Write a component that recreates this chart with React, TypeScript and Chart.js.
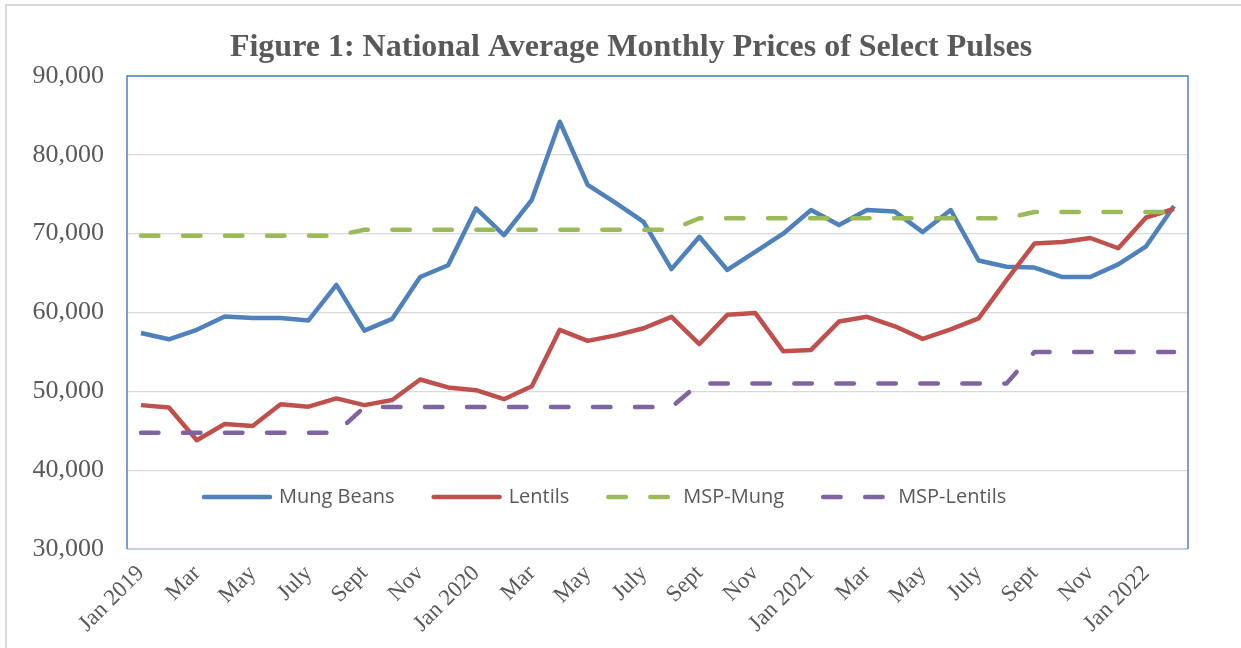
import React, { useEffect, useRef } from "react";
import { Chart, registerables } from "chart.js";

Chart.register(...registerables);

const categories = [
  "Jan 2019", "Feb", "Mar", "Apr", "May", "June", "July", "Aug", "Sept", "Oct", "Nov", "Dec",
  "Jan 2020", "Feb", "Mar", "Apr", "May", "June", "July", "Aug", "Sept", "Oct", "Nov", "Dec",
  "Jan 2021", "Feb", "Mar", "Apr", "May", "June", "July", "Aug", "Sept", "Oct", "Nov", "Dec",
  "Jan 2022", "Feb",
];

const mungBeans = [
  57400, 56600, 57800, 59500, 59300, 59300, 59000, 63500, 57700, 59200, 64500, 66000,
  73200, 69800, 74300, 84200, 76200, 73900, 71500, 65500, 69600, 65400, 67700, 70000,
  73000, 71100, 73000, 72800, 70200, 73000, 66600, 65800, 65700, 64500, 64500, 66100,
  68400, 73500,
];

const lentils = [
  48250, 47950, 43800, 45850, 45600, 48350, 48050, 49100, 48250, 48900, 51500, 50500,
  50150, 49000, 50650, 57800, 56400, 57100, 58000, 59450, 56000, 59700, 59950, 55100,
  55250, 58850, 59450, 58250, 56650, 57850, 59250, 64100, 68750, 68950, 69450, 68150,
  72050, 73150,
];

const mspMung = [
  69750, 69750, 69750, 69750, 69750, 69750, 69750, 69750, 70500, 70500, 70500, 70500,
  70500, 70500, 70500, 70500, 70500, 70500, 70500, 70500, 71960, 71960, 71960, 71960,
  71960, 71960, 71960, 71960, 71960, 71960, 71960, 71960, 72750, 72750, 72750, 72750,
  72750, 72750,
];

const mspLentils = [
  44750, 44750, 44750, 44750, 44750, 44750, 44750, 44750, 48000, 48000, 48000, 48000,
  48000, 48000, 48000, 48000, 48000, 48000, 48000, 48000, 51000, 51000, 51000, 51000,
  51000, 51000, 51000, 51000, 51000, 51000, 51000, 51000, 55000, 55000, 55000, 55000,
  55000, 55000,
];

const seriesNames = ["Mung Beans", "Lentils", "MSP-Mung", "MSP-Lentils"];
const titleText = "Figure 1: National Average Monthly Prices of Select Pulses";
const yMin = 30000;
const yMax = 90000;
const yStep = 10000;

const TEXT = "#595959";
const DASH = [17.5, 24.5];

const framePlugin = {
  id: "frame",
  beforeDraw(chart: any) {
    const ctx = chart.ctx;
    ctx.save();
    ctx.strokeStyle = "#D9D9D9";
    ctx.lineWidth = 2;
    ctx.beginPath();
    ctx.moveTo(6, chart.height);
    ctx.lineTo(6, 5);
    ctx.lineTo(chart.width, 5);
    ctx.stroke();
    ctx.fillStyle = TEXT;
    ctx.font = "bold 32px 'Liberation Serif'";
    ctx.textAlign = "center";
    ctx.textBaseline = "middle";
    ctx.fillText(titleText, 631, 48);
    ctx.restore();
  },
  afterDraw(chart: any) {
    const { ctx, chartArea } = chart;
    const { left, right, top, bottom } = chartArea;
    ctx.save();
    ctx.lineWidth = 1.5;
    ctx.strokeStyle = "#BCC8DA";
    ctx.beginPath();
    ctx.moveTo(left, bottom);
    ctx.lineTo(right, bottom);
    ctx.stroke();
    ctx.strokeStyle = "#4F81BD";
    ctx.beginPath();
    ctx.moveTo(left, bottom);
    ctx.lineTo(left, top);
    ctx.lineTo(right, top);
    ctx.lineTo(right, bottom);
    ctx.stroke();
    ctx.restore();
  },
};

const legendPlugin = {
  id: "insideLegend",
  afterDraw(chart: any) {
    const { ctx, chartArea } = chart;
    const y = chartArea.top + 421;
    let x = chartArea.left + 77;
    const sampleLen = 66;
    ctx.save();
    ctx.font = "20px 'Open Sans'";
    ctx.textBaseline = "middle";
    ctx.textAlign = "left";
    chart.data.datasets.forEach((ds: any) => {
      ctx.strokeStyle = ds.borderColor;
      ctx.lineWidth = 4.5;
      ctx.lineCap = "round";
      ctx.setLineDash(ds.borderDash || []);
      ctx.beginPath();
      ctx.moveTo(x, y);
      ctx.lineTo(x + sampleLen, y);
      ctx.stroke();
      ctx.setLineDash([]);
      x += sampleLen + 9;
      ctx.fillStyle = TEXT;
      ctx.fillText(ds.label, x, y);
      x += ctx.measureText(ds.label).width + 39;
    });
    ctx.restore();
  },
};

export default function App() {
  const ref = useRef<HTMLCanvasElement | null>(null);

  useEffect(() => {
    document.body.style.margin = "0";
    const canvas = ref.current;
    if (!canvas) return;
    const chart = new Chart(canvas, {
      type: "line",
      data: {
        labels: categories,
        datasets: [
          {
            label: seriesNames[0],
            data: mungBeans,
            borderColor: "#4F81BD",
            backgroundColor: "#4F81BD",
            borderWidth: 4.5,
            order: 4,
          },
          {
            label: seriesNames[1],
            data: lentils,
            borderColor: "#C0504D",
            backgroundColor: "#C0504D",
            borderWidth: 4.5,
            order: 3,
          },
          {
            label: seriesNames[2],
            data: mspMung,
            borderColor: "#9BBB59",
            backgroundColor: "#9BBB59",
            borderWidth: 4.5,
            borderDash: DASH,
            borderCapStyle: "round",
            order: 2,
          },
          {
            label: seriesNames[3],
            data: mspLentils,
            borderColor: "#8064A2",
            backgroundColor: "#8064A2",
            borderWidth: 4.5,
            borderDash: DASH,
            borderCapStyle: "round",
            order: 1,
          },
        ] as any,
      },
      options: {
        animation: false,
        responsive: false,
        maintainAspectRatio: false,
        elements: {
          point: { radius: 0, hoverRadius: 0 },
          line: { tension: 0, borderJoinStyle: "round" },
        },
        layout: { padding: { left: 22, right: 53, top: 76, bottom: 0 } },
        plugins: {
          legend: { display: false },
          tooltip: { enabled: false },
          title: { display: false },
        },
        scales: {
          x: {
            type: "category",
            offset: true,
            grid: { display: false, drawTicks: false },
            border: { display: false },
            ticks: {
              autoSkip: false,
              maxRotation: 45,
              minRotation: 45,
              padding: 11,
              color: TEXT,
              font: { family: "Liberation Serif", size: 23 },
              callback: (_v: any, i: number) => (i % 2 === 0 ? categories[i] : ""),
            },
            afterFit: (scale: any) => {
              scale.height = 99;
            },
          },
          y: {
            min: yMin,
            max: yMax,
            grid: { color: "#D9D9D9", lineWidth: 1.3, drawTicks: false },
            border: { display: false },
            ticks: {
              stepSize: yStep,
              padding: 23,
              color: TEXT,
              font: { family: "Liberation Serif", size: 26 },
              callback: (v: any) => Number(v).toLocaleString("en-US"),
            },
            afterFit: (scale: any) => {
              scale.width = 105;
            },
          },
        },
      } as any,
      plugins: [framePlugin, legendPlugin],
    });
    return () => chart.destroy();
  }, []);

  return (
    <div style={{ position: "relative", width: 1241, height: 648, background: "#fff" }}>
      <canvas ref={ref} width={1241} height={648} style={{ display: "block" }} />
    </div>
  );
}
